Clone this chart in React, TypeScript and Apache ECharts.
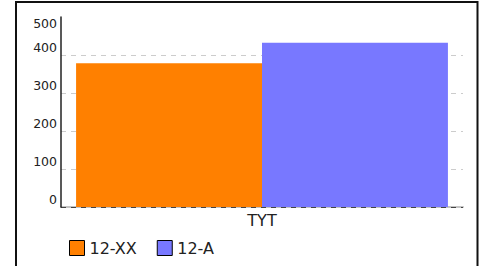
import React, { useEffect, useRef } from "react";
import * as echarts from "echarts";

const categories = ["TYT"];
const seriesNames = ["12-XX", "12-A"];
const valuesXX = [378];
const valuesA = [432];
const seriesColors = ["#ff8000", "#7878ff"];

export default function App() {
  const ref = useRef<HTMLDivElement>(null);
  useEffect(() => {
    if (!ref.current) return;
    const chart = echarts.init(ref.current, null, { renderer: "svg" });
    const font = "DejaVu Sans";
    chart.setOption({
      animation: false,
      textStyle: { fontFamily: font },
      graphic: [
        {
          type: "rect",
          shape: { x: 16, y: 2, width: 461.5, height: 300 },
          style: { fill: "none", stroke: "#111", lineWidth: 2 },
          z: 100,
        },
      ],
      grid: { left: 61, right: 31, top: 17, bottom: 59, containLabel: false },
      legend: {
        left: 64,
        top: 235,
        icon: "rect",
        itemWidth: 15,
        itemHeight: 15,
        itemGap: 20,
        itemStyle: { borderColor: "#000", borderWidth: 1 },
        textStyle: { fontFamily: font, fontSize: 16, color: "#222" },
        data: seriesNames,
      },
      xAxis: {
        type: "category",
        data: categories,
        z: 0,
        axisLine: { show: true, lineStyle: { color: "#c4c4c4", width: 2 } },
        axisTick: { show: false },
        axisLabel: { fontFamily: font, fontSize: 16, color: "#222", margin: 5 },
        splitLine: { show: false },
      },
      yAxis: {
        type: "value",
        min: 0,
        max: 500,
        interval: 100,
        z: 1,
        axisLine: { show: true, lineStyle: { color: "#222", width: 1.5 } },
        axisTick: { show: false },
        axisLabel: {
          fontFamily: font,
          fontSize: 12.5,
          color: "#222",
          margin: 4,
          verticalAlign: "bottom",
          verticalAlignMaxLabel: "top",
          padding: [0, 0, 1, 0],
        },
        splitLine: {
          show: true,
          lineStyle: {
            color: ["#444", "#cccccc", "#cccccc", "#cccccc", "#cccccc", "rgba(0,0,0,0)"],
            type: [5, 5],
            width: 1,
          },
        },
      },
      series: [
        {
          name: seriesNames[0],
          type: "bar",
          data: valuesXX,
          barGap: "0%",
          barCategoryGap: "7.5%",
          itemStyle: { color: seriesColors[0] },
        },
        {
          name: seriesNames[1],
          type: "bar",
          data: valuesA,
          barGap: "0%",
          barCategoryGap: "7.5%",
          itemStyle: { color: seriesColors[1] },
        },
      ],
    });
    return () => chart.dispose();
  }, []);
  return <div ref={ref} style={{ width: 494, height: 266, position: "absolute", left: 0, top: 0 }} />;
}
